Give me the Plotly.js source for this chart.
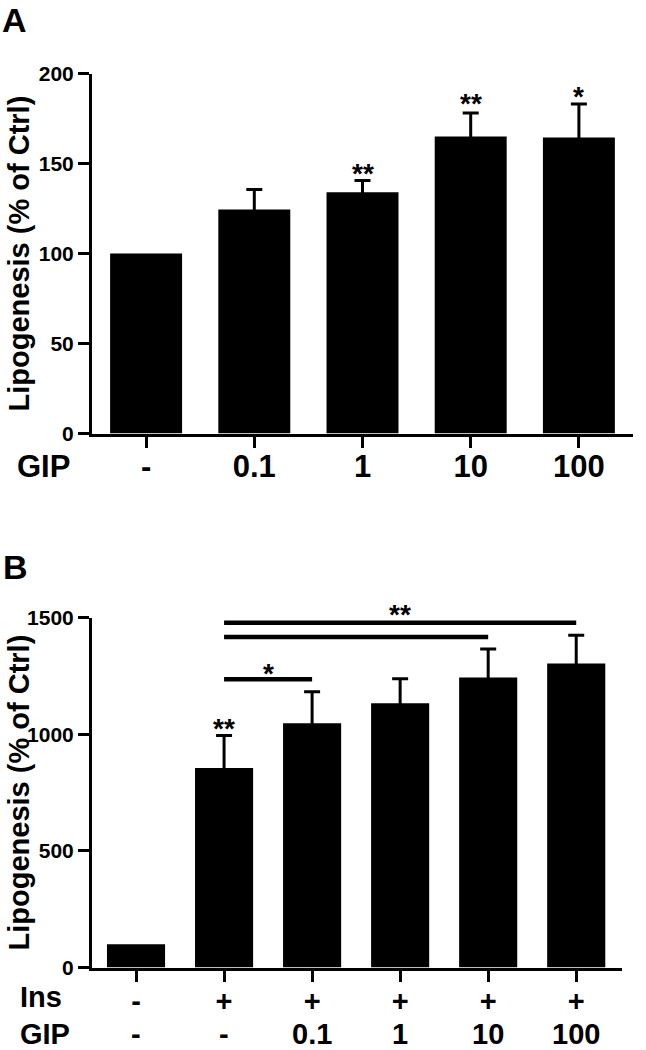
<!DOCTYPE html>
<html>
<head>
<meta charset="utf-8">
<script src="https://cdn.plot.ly/plotly-3.0.1.min.js"></script>
<style>html,body{margin:0;padding:0;background:#fff;}#chart{width:646px;height:1050px;}</style>
</head>
<body>
<div id="chart"></div>
<script>
// ---- Panel A data ----
const gipA = ['-', '0.1', '1', '10', '100'];
const lipoA = [100, 124.5, 134, 165, 164.5];
const errA = [NaN, 11, 6.5, 13, 18.5];
const starsA = ['', '', '**', '**', '*'];
const starYA = [null, null, 148, 186.5, 190.8];
const yTicksA = [0, 50, 100, 150, 200];

// ---- Panel B data ----
const insB = ['-', '+', '+', '+', '+', '+'];
const gipB = ['-', '-', '0.1', '1', '10', '100'];
const lipoB = [100, 855, 1047, 1133, 1243, 1303];
const errB = [NaN, 139, 135, 105, 122, 121];
const starsB = ['', '**', '', '', '', ''];
const starYB = [null, 1051, null, null, null, null];
const yTicksB = [0, 500, 1000, 1500];
// significance brackets (panel B)
const bracketFrom = [1, 1, 1];
const bracketTo = [5, 4, 2];
const bracketY = [1478, 1416, 1235];
const bracketText = ['**', '', '*'];
const bracketTextY = [1539, null, 1287];

const FONT = 'Liberation Sans, Arial, Helvetica, sans-serif';
const idxA = gipA.map((_, i) => i);
const idxB = gipB.map((_, i) => i);

const H = 1050, W = 646;
const domA = [1 - 433.5 / H, 1 - 73.5 / H];
const domB = [1 - 967.5 / H, 1 - 617.5 / H];
const rangeA = [0, 200];
const rangeB = [0, 1500];
const pxPerUnitB = (domB[1] - domB[0]) * H / (rangeB[1] - rangeB[0]);

const barA = {
  type: 'bar', x: idxA, y: lipoA, width: 0.665, xaxis: 'x', yaxis: 'y',
  marker: {color: '#000', line: {width: 0}},
  error_y: {type: 'data', array: errA, visible: true, color: '#000', thickness: 3, width: 8},
  hoverinfo: 'skip'
};
const barB = {
  type: 'bar', x: idxB, y: lipoB, width: 0.66, xaxis: 'x2', yaxis: 'y2',
  marker: {color: '#000', line: {width: 0}},
  error_y: {type: 'data', array: errB, visible: true, color: '#000', thickness: 3, width: 8},
  hoverinfo: 'skip'
};

const common = {
  showline: true, linewidth: 3, linecolor: '#000', ticks: 'outside', ticklen: 11, tickwidth: 3,
  tickcolor: '#000', showgrid: false, zeroline: false, fixedrange: true
};

const annotations = [];
const bold = {family: FONT, color: '#000', weight: 700};
const f = (size) => Object.assign({size: size}, bold);
// panel letters
annotations.push({text: 'A', xref: 'paper', yref: 'paper', x: 0, y: 1, xanchor: 'left', yanchor: 'top',
  xshift: 0, yshift: 1, showarrow: false, font: f(34)});
annotations.push({text: 'B', xref: 'paper', yref: 'paper', x: 0, y: 1 - 546 / H, xanchor: 'left', yanchor: 'top',
  xshift: 1, showarrow: false, font: f(34)});
// y titles
annotations.push({text: 'Lipogenesis (% of Ctrl)', xref: 'paper', yref: 'y domain', x: 0, y: 0.5, xanchor: 'center',
  yanchor: 'middle', xshift: 18, textangle: -90, showarrow: false, font: f(29)});
annotations.push({text: 'Lipogenesis (% of Ctrl)', xref: 'paper', yref: 'y2 domain', x: 0, y: 0.5, xanchor: 'center',
  yanchor: 'middle', xshift: 18, textangle: -90, showarrow: false, font: f(29)});
// row labels
annotations.push({text: 'GIP', xref: 'paper', yref: 'paper', x: 0, y: 1 - 466 / H, xanchor: 'left', yanchor: 'middle',
  xshift: 15, showarrow: false, font: f(31)});
annotations.push({text: 'Ins', xref: 'paper', yref: 'paper', x: 0, y: 1 - 997 / H, xanchor: 'left', yanchor: 'middle',
  xshift: 18, showarrow: false, font: f(29)});
annotations.push({text: 'GIP', xref: 'paper', yref: 'paper', x: 0, y: 1 - 1034 / H, xanchor: 'left', yanchor: 'middle',
  xshift: 18, showarrow: false, font: f(29)});
// second row of panel B x labels (GIP doses)
gipB.forEach((g, i) => {
  annotations.push({text: g, xref: 'x2', yref: 'paper', x: idxB[i], y: 1 - 1034 / H, xanchor: 'center',
    yanchor: 'middle', showarrow: false, font: f(29)});
});
// stars
starsA.forEach((s, i) => {
  if (s) annotations.push({text: s, xref: 'x', yref: 'y', x: idxA[i], y: starYA[i], yshift: -6,
    xanchor: 'center', yanchor: 'middle', showarrow: false, font: f(28)});
});
starsB.forEach((s, i) => {
  if (s) annotations.push({text: s, xref: 'x2', yref: 'y2', x: idxB[i], y: starYB[i], yshift: -6,
    xanchor: 'center', yanchor: 'middle', showarrow: false, font: f(28)});
});
const shapes = [];
bracketFrom.forEach((b, i) => {
  shapes.push({type: 'line', xref: 'x2', yref: 'y2', x0: b, x1: bracketTo[i], y0: bracketY[i], y1: bracketY[i],
    line: {color: '#000', width: 4.5}});
  if (bracketText[i]) {
    const yv = bracketTextY[i];
    const yIn = Math.min(yv, rangeB[1]);
    annotations.push({text: bracketText[i], xref: 'x2', yref: 'y2', x: (b + bracketTo[i]) / 2,
      y: yIn, yshift: -6 + (yv - yIn) * pxPerUnitB, xanchor: 'center', yanchor: 'middle', showarrow: false,
      font: f(28)});
  }
});

const layout = {
  width: W, height: H, margin: {l: 0, r: 0, t: 0, b: 0, autoexpand: false},
  paper_bgcolor: '#fff', plot_bgcolor: '#fff', showlegend: false,
  font: {family: FONT, color: '#000', weight: 700},
  xaxis: Object.assign({}, common, {domain: [92 / W, 633 / W], range: [-0.5, 4.5], anchor: 'y',
    tickvals: idxA, ticktext: gipA, ticklabelstandoff: -8, tickfont: f(31)}),
  yaxis: Object.assign({}, common, {domain: domA, range: rangeA, anchor: 'x',
    tickvals: yTicksA, ticktext: yTicksA.map(String), tickfont: f(21)}),
  xaxis2: Object.assign({}, common, {domain: [92 / W, 622 / W], range: [-0.5, 5.52], anchor: 'y2',
    tickvals: idxB, ticktext: insB, ticklabelstandoff: -5, tickfont: f(29)}),
  yaxis2: Object.assign({}, common, {domain: domB, range: rangeB, anchor: 'x2',
    tickvals: yTicksB, ticktext: yTicksB.map(String), tickfont: f(21)}),
  annotations: annotations,
  shapes: shapes
};

Plotly.newPlot('chart', [barA, barB], layout, {staticPlot: true, displayModeBar: false});
</script>
</body>
</html>
